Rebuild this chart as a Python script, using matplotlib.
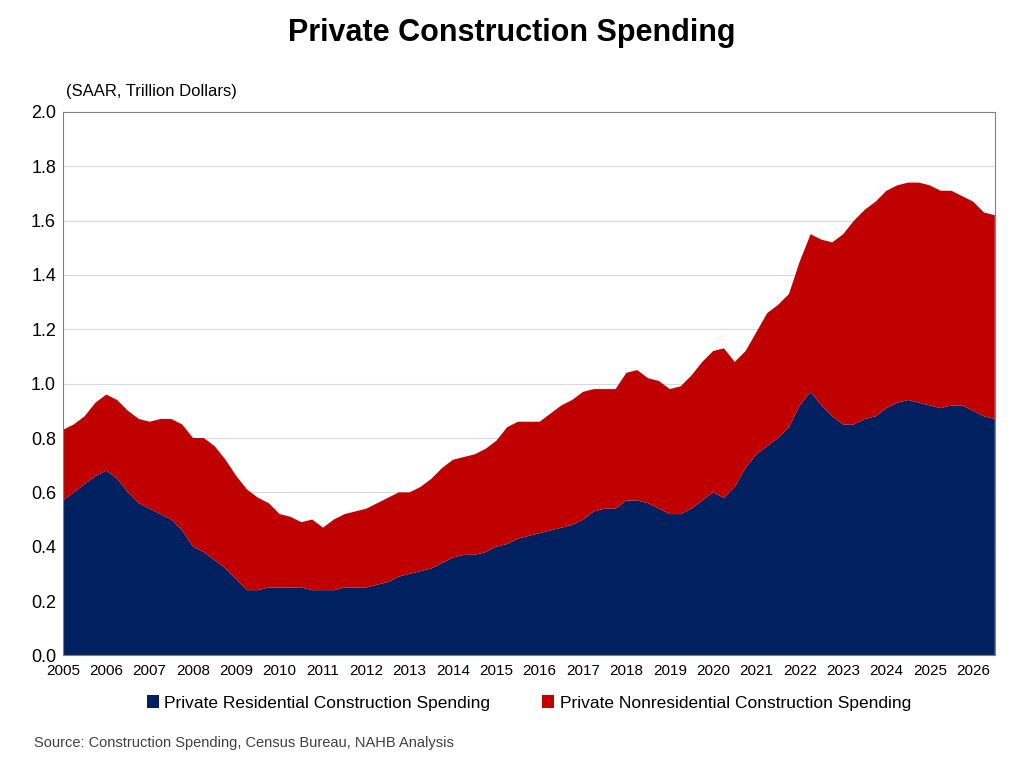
import numpy as np
import matplotlib
matplotlib.use("Agg")
import matplotlib.pyplot as plt

start_year = 2005.0
step = 0.25
residential = [0.57,0.60,0.63,0.66,0.68,0.65,0.60,0.56,0.54,0.52,0.50,0.46,0.40,0.38,0.35,0.32,
0.28,0.24,0.24,0.25,0.25,0.25,0.25,0.24,0.24,0.24,0.25,0.25,0.25,0.26,0.27,0.29,
0.30,0.31,0.32,0.34,0.36,0.37,0.37,0.38,0.40,0.41,0.43,0.44,0.45,0.46,0.47,0.48,
0.50,0.53,0.54,0.54,0.57,0.57,0.56,0.54,0.52,0.52,0.54,0.57,0.60,0.58,0.62,0.69,
0.74,0.77,0.80,0.84,0.92,0.97,0.92,0.88,0.85,0.85,0.87,0.88,0.91,0.93,0.94,0.93,
0.92,0.91,0.92,0.92,0.90,0.88,0.87]
total = [0.83,0.85,0.88,0.93,0.96,0.94,0.90,0.87,0.86,0.87,0.87,0.85,0.80,0.80,0.77,0.72,
0.66,0.61,0.58,0.56,0.52,0.51,0.49,0.50,0.47,0.50,0.52,0.53,0.54,0.56,0.58,0.60,
0.60,0.62,0.65,0.69,0.72,0.73,0.74,0.76,0.79,0.84,0.86,0.86,0.86,0.89,0.92,0.94,
0.97,0.98,0.98,0.98,1.04,1.05,1.02,1.01,0.98,0.99,1.03,1.08,1.12,1.13,1.08,1.12,
1.19,1.26,1.29,1.33,1.45,1.55,1.53,1.52,1.55,1.60,1.64,1.67,1.71,1.73,1.74,1.74,
1.73,1.71,1.71,1.69,1.67,1.63,1.62]
nonresidential = [t - r for t, r in zip(total, residential)]
x = start_year + step * np.arange(len(residential))
years = list(range(2005, 2027))

fig = plt.figure(figsize=(10.24, 7.83), dpi=100)
ax = fig.add_axes([0.0615, 0.163, 0.91, 0.694])
navy = "#002060"; red = "#C00000"
ax.stackplot(x, residential, nonresidential, colors=[navy, red], linewidth=0,
             labels=["Private Residential Construction Spending", "Private Nonresidential Construction Spending"])
ax.set_xlim(2005, x[-1])
ax.set_ylim(0, 2.0)
ax.set_yticks(np.arange(0, 2.01, 0.2))
ax.set_yticklabels([f"{v:.1f}" for v in np.arange(0, 2.01, 0.2)], fontsize=13, family="Liberation Sans")
ax.set_xticks(years)
ax.set_xticklabels([str(y) for y in years], fontsize=11, family="Liberation Sans")
ax.tick_params(axis="x", pad=6)
ax.tick_params(axis="y", pad=5)
ax.grid(axis="y", color="#d9d9d9", linewidth=0.8)
ax.set_axisbelow(True)
for s in ax.spines.values():
    s.set_color("#808080"); s.set_linewidth(0.8)
ax.tick_params(length=0)
fig.text(0.5, 0.958, "Private Construction Spending", ha="center", va="center",
         fontsize=22, fontweight="bold", family="Liberation Sans")
fig.text(0.064, 0.883, "(SAAR, Trillion Dollars)", fontsize=12, family="Liberation Sans", va="center")
ax.legend(loc="upper center", bbox_to_anchor=(0.5, -0.045), ncol=2, frameon=False,
          prop={"family": "Liberation Sans", "size": 12.5}, handlelength=0.7, handleheight=0.7,
          columnspacing=3, handletextpad=0.3)
fig.text(0.033, 0.051, "Source: Construction Spending, Census Bureau, NAHB Analysis",
         fontsize=10.5, color="#404040", family="Liberation Sans", va="center")
fig.savefig("out.png", dpi=100)
